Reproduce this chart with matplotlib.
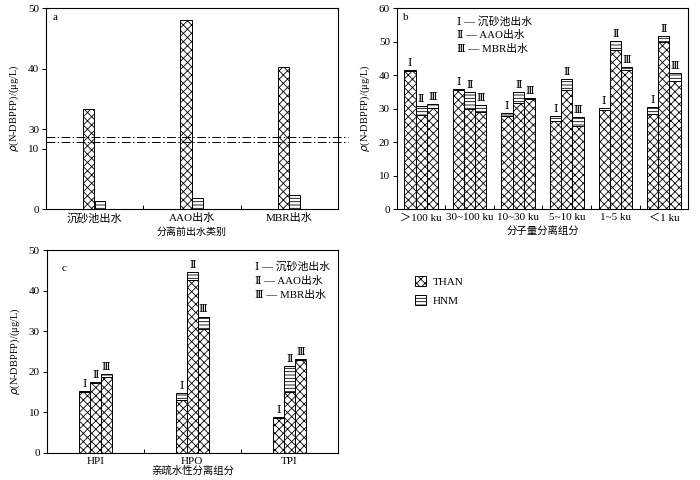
import numpy as np
import matplotlib
matplotlib.use('Agg')
from matplotlib import pyplot as plt
from matplotlib.patches import Patch

plt.rcParams['font.family'] = ['Liberation Serif', 'DejaVu Serif', 'Noto Sans CJK SC']
plt.rcParams['hatch.linewidth'] = 0.6
plt.rcParams['axes.linewidth'] = 0.8
plt.rcParams['font.size'] = 8

# panel a: before separation
a_cats = ['沉砂池出水', 'AAO出水', 'MBR出水']
a_than = [33.3, 48.1, 40.3]
a_hnm = [1.35, 1.8, 2.4]

# panel b: molecular weight fractions
b_cats = ['＞100 ku', '30~100 ku', '10~30 ku', '5~10 ku', '1~5 ku', '＜1 ku']
b_than = {'Ⅰ': [41.2, 35.7, 27.7, 26.3, 29.6, 28.3],
          'Ⅱ': [28.0, 29.8, 31.8, 35.6, 47.6, 49.8],
          'Ⅲ': [30.1, 29.0, 32.9, 24.8, 41.7, 38.4]}
b_hnm = {'Ⅰ': [0.3, 0.3, 1.0, 1.4, 0.6, 2.2],
         'Ⅱ': [2.9, 5.3, 3.1, 3.2, 2.7, 2.0],
         'Ⅲ': [1.2, 2.1, 0.3, 2.8, 0.6, 2.4]}

# panel c: hydrophilic / hydrophobic fractions
c_cats = ['HPI', 'HPO', 'TPI']
c_than = {'Ⅰ': [15.0, 13.1, 8.6],
          'Ⅱ': [17.2, 42.5, 15.0],
          'Ⅲ': [18.7, 30.6, 22.8]}
c_hnm = {'Ⅰ': [0.3, 1.6, 0.15],
         'Ⅱ': [0.3, 2.1, 6.4],
         'Ⅲ': [0.6, 3.0, 0.3]}

sources = ['Ⅰ', 'Ⅱ', 'Ⅲ']
source_names = ['沉砂池出水', 'AAO出水', 'MBR出水']

ylab = r'$\rho$(N-DBPFP)/(μg/L)'
than_style = dict(facecolor='white', edgecolor='black', hatch='xxxx', linewidth=0.7)
hnm_style = dict(facecolor='white', edgecolor='black', hatch='-----', linewidth=0.7)

fig = plt.figure(figsize=(7, 4.8), dpi=100)


def style_axes(ax, n):
    ax.set_xlim(-0.5, n - 0.5)
    ax.set_xticks(np.arange(n))
    ax.set_xticks(np.arange(n - 1) + 0.5, minor=True)
    ax.tick_params(axis='x', which='major', length=0, pad=3)
    ax.tick_params(axis='x', which='minor', direction='in', length=3, width=0.7)
    ax.tick_params(axis='y', direction='out', length=3, width=0.7, pad=2)


# ---- a: broken axis through a function scale
b1, b2, g = 11.1, 28.7, 0.8


def fwd(y):
    y = np.asarray(y, dtype=float)
    return np.where(y <= b1, y, np.where(y >= b2, y - (b2 - b1) + g,
                                         b1 + (y - b1) * g / (b2 - b1)))


def inv(z):
    z = np.asarray(z, dtype=float)
    return np.where(z <= b1, z, np.where(z >= b1 + g, z + (b2 - b1) - g,
                                         b1 + (z - b1) * (b2 - b1) / g))


axa = fig.add_axes([0.0657, 0.564, 0.4173, 0.419])
xa = np.arange(len(a_cats))
axa.bar(xa - 0.12, a_than, width=0.115, align='edge', **than_style)
axa.bar(xa, a_hnm, width=0.11, align='edge', **hnm_style)
axa.set_yscale('function', functions=(fwd, inv))
axa.set_ylim(0, 50)
axa.set_yticks([0, 10, 30, 40, 50])
axa.set_yticklabels(['0', '10', '30', '40', '50'])
style_axes(axa, len(a_cats))
axa.set_xticklabels(a_cats)
for yb in (b1, b2):
    axa.plot([0, 1.035], [yb, yb], transform=axa.get_yaxis_transform(),
             color='black', ls=(0, (9, 2.5, 1.5, 2.5)), lw=0.7, clip_on=False)
axa.set_ylabel(ylab, labelpad=5, fontsize=7.5)
axa.set_xlabel('分离前出水类别', labelpad=2, fontsize=7.2)
axa.text(0.022, 0.975, 'a', transform=axa.transAxes, va='top', ha='left')


def grouped(ax, cats, than, hnm, ymax, ystep):
    x = np.arange(len(cats))
    w = 0.23 if len(cats) > 3 else 0.113
    for i, s in enumerate(sources):
        xs = x + (i - 1) * w
        ax.bar(xs, than[s], width=w, **than_style)
        ax.bar(xs, hnm[s], width=w, bottom=than[s], **hnm_style)
        tops = np.array(than[s]) + np.array(hnm[s])
        for xx, tt in zip(xs, tops):
            ax.text(xx, tt + 0.6 * ymax / 60, s, ha='center', va='bottom', fontsize=8)
    ax.set_ylim(0, ymax)
    ax.set_yticks(np.arange(0, ymax + 1, ystep))
    style_axes(ax, len(cats))
    ax.set_xticklabels(cats)
    ax.set_ylabel(ylab, labelpad=5, fontsize=7.5)


axb = fig.add_axes([0.567, 0.564, 0.416, 0.419])
grouped(axb, b_cats, b_than, b_hnm, 60, 10)
axb.set_xlabel('分子量分离组分', labelpad=3, fontsize=7.5)
axb.text(0.022, 0.975, 'b', transform=axb.transAxes, va='top', ha='left')
for k, (s, nm) in enumerate(zip(sources, source_names)):
    axb.text(0.207, 0.935 - k * 0.07, s + ' — ' + nm, transform=axb.transAxes,
             va='center', ha='left', fontsize=7.8)

axc = fig.add_axes([0.0667, 0.057, 0.416, 0.422])
grouped(axc, c_cats, c_than, c_hnm, 50, 10)
axc.set_xlabel('亲疏水性分离组分', labelpad=0, fontsize=7.5)
axc.text(0.05, 0.93, 'c', transform=axc.transAxes, va='top', ha='left')
for k, (s, nm) in enumerate(zip(sources, source_names)):
    axc.text(0.716, 0.921 - k * 0.072, s + ' — ' + nm, transform=axc.transAxes,
             va='center', ha='left', fontsize=7.8)

handles = [Patch(label='THAN', **than_style), Patch(label='HNM', **hnm_style)]
fig.legend(handles=handles, loc='upper left', bbox_to_anchor=(0.578, 0.445),
           frameon=False, handlelength=1.0, handleheight=1.0, handletextpad=0.6,
           labelspacing=0.7, fontsize=8)

fig.savefig('out.png', dpi=100)
